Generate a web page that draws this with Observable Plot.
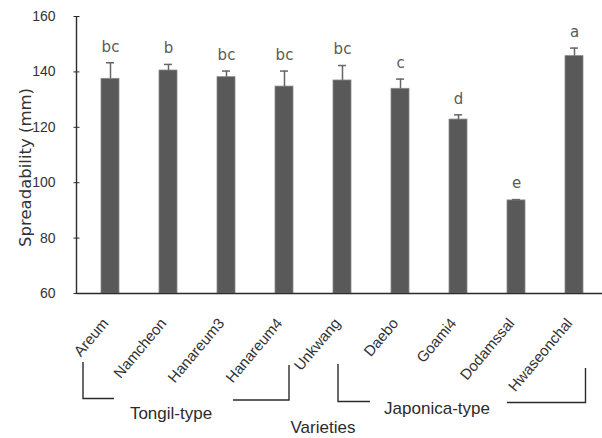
<!DOCTYPE html>
<html>
<head>
<meta charset="utf-8">
<script src="https://cdn.jsdelivr.net/npm/d3@7"></script>
<script src="https://cdn.jsdelivr.net/npm/@observablehq/plot@0.6"></script>
<style>
  html, body { margin: 0; padding: 0; background: #fff; }
  #chart svg { display: block; }
</style>
</head>
<body>
<div id="chart"></div>
<script>
const varieties = ["Areum", "Namcheon", "Hanareum3", "Hanareum4", "Unkwang", "Daebo", "Goami4", "Dodamssal", "Hwaseonchal"];
const spreadability = [137.5, 140.5, 138.1, 134.7, 136.9, 133.9, 122.8, 93.6, 145.7];
const sd = [5.8, 2.2, 2.2, 5.6, 5.4, 3.5, 1.7, 0.3, 2.9];
const letters = ["bc", "b", "bc", "bc", "bc", "c", "d", "e", "a"];
const yTicks = [60, 80, 100, 120, 140, 160];
const groupNames = ["Tongil-type", "Japonica-type"];
const groupFirst = ["Areum", "Unkwang"];
const groupLast = ["Hanareum4", "Hwaseonchal"];
const xTitle = "Varieties";
const yTitle = "Spreadability (mm)";

const data = varieties.map((v, i) => ({variety: v, value: spreadability[i], sd: sd[i], top: spreadability[i] + sd[i], letter: letters[i]}));

const sans = "'Liberation Sans', Arial, sans-serif";
const verdanaLike = "'DejaVu Sans', Verdana, sans-serif";

function decorations(index, scales, values, dims) {
  const x = scales.x, y = scales.y;
  const bw = typeof x.bandwidth === "function" ? x.bandwidth() : (x.bandwidth || 0);
  const c = (name) => x(name) + bw / 2;
  const g = d3.create("svg:g");
  const line = (pts) => g.append("polyline")
    .attr("points", pts.map(p => p.join(",")).join(" "))
    .attr("fill", "none").attr("stroke", "#2b2b2b").attr("stroke-width", 1.4);
  const x0 = dims.marginLeft, y0 = y(yTicks[0]), y1 = y(yTicks[yTicks.length - 1]);
  // axes lines
  line([[x0, y1], [x0, y0]]);
  g.append("line").attr("x1", x0).attr("x2", dims.width).attr("y1", y0 + 0.5).attr("y2", y0 + 0.5)
    .attr("stroke", "#2b2b2b").attr("stroke-width", 1.5);
  // group brackets
  const a0 = c(groupFirst[0]), a1 = c(groupLast[0]);
  line([[a0 - 27, 362], [a0 - 27, 398.5], [a0 + 4, 398.5]]);
  line([[a1 - 51, 400], [a1 + 5, 400], [a1 + 5, 365]]);
  const b0 = c(groupFirst[1]), b1 = c(groupLast[1]);
  line([[b0 - 4, 364], [b0 - 4, 401.5], [b0 + 28, 401.5]]);
  line([[b1 - 67, 402.5], [b1 + 11.5, 402.5], [b1 + 11.5, 368]]);
  const txt = (s, px, py, size) => g.append("text").text(s)
    .attr("x", px).attr("y", py).attr("text-anchor", "middle").attr("dominant-baseline", "central")
    .attr("font-family", sans).attr("font-size", size).attr("fill", "#2b2b2b");
  txt(groupNames[0], a0 + 61, 413, 17);
  txt(groupNames[1], b0 + 95, 408, 17);
  txt(xTitle, (a0 + b1) / 2 - 19, 427, 17);
  // y title
  g.append("text").text(yTitle)
    .attr("transform", `translate(25,${(y0 + y1) / 2 + 13}) rotate(-90)`)
    .attr("text-anchor", "middle").attr("dominant-baseline", "central")
    .attr("font-family", verdanaLike).attr("font-size", 16.5).attr("fill", "#333");
  return g.node();
}

const chart = Plot.plot({
  width: 602,
  height: 438,
  marginLeft: 76.5,
  marginRight: -4.6,
  marginTop: 16,
  marginBottom: 145,
  style: {background: "#fff", overflow: "visible"},
  x: {domain: varieties, paddingInner: 0.69, paddingOuter: 0.345, axis: null},
  y: {domain: [60, 160], axis: null},
  marks: [
    Plot.barY(data, {x: "variety", y1: 60, y2: "value", fill: "#595959", stroke: "#8a8a8a", strokeWidth: 0.8}),
    Plot.ruleX(data, {x: "variety", y1: "value", y2: "top", stroke: "#666", strokeWidth: 1.5}),
    Plot.tickY(data, {x: "variety", y: "top", stroke: "#666", strokeWidth: 1.5, insetLeft: 5, insetRight: 5}),
    Plot.text(data, {x: "variety", y: "top", text: "letter", dy: -16, fontSize: 15, fill: "#5a5a5a", fontFamily: verdanaLike}),
    Plot.axisY({ticks: yTicks, tickSize: 6, dx: 3, tickPadding: 18.5, label: null, fontSize: 14, fontFamily: sans, color: "#333", stroke: "#2b2b2b"}),
    Plot.text(varieties, {x: d => d, frameAnchor: "bottom", dy: 27, dx: -5, rotate: -50, textAnchor: "end", lineAnchor: "middle", fontSize: 15, fontFamily: sans, fill: "#333"}),
    decorations
  ]
});
document.getElementById("chart").appendChild(chart);
</script>
</body>
</html>
